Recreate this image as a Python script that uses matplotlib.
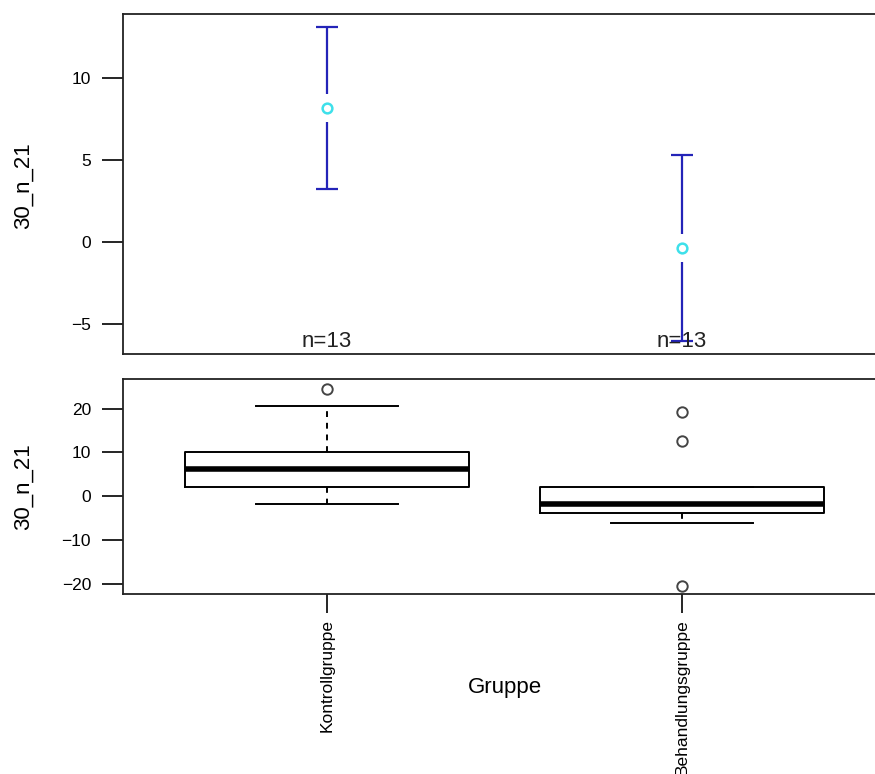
import matplotlib
matplotlib.use("Agg")
import matplotlib.pyplot as plt
import matplotlib.transforms as mtrans

plt.rcParams['font.family'] = ['Liberation Sans', 'DejaVu Sans']

# data
groups = ["Kontrollgruppe", "Behandlungsgruppe"]
n_per_group = [13, 13]
means = [8.17, -0.37]
ci_half = [4.95, 5.67]

# boxplot stats per group
box_q1 = [2.1, -3.9]
box_med = [6.1, -1.9]
box_q3 = [10.1, 2.06]
whisk_lo = [-1.8, -6.25]
whisk_hi = [20.7, 2.06]
outliers = [[24.6], [19.2, 12.7, -20.6]]

pos = [1, 2]
W, H = 875, 774
fig = plt.figure(figsize=(W / 100, H / 100), dpi=100)

# pixel layout of the two panels
left, right = 123, 885
ax1 = fig.add_axes([left / W, 1 - 354 / H, (right - left) / W, 340 / H])
ax2 = fig.add_axes([left / W, 1 - 594 / H, (right - left) / W, 215 / H])

xlim = (0.425, 0.425 + (right - left) / 355)
for ax in (ax1, ax2):
    ax.set_xlim(*xlim)
    for s in ax.spines.values():
        s.set_linewidth(1.3)
        s.set_color('#222222')
    ax.tick_params(axis='y', length=15, width=1.2, pad=8, labelsize=12.5)
    ax.tick_params(axis='x', length=14, width=1.2, pad=4, labelsize=12.5)

# --- top panel: mean with CI ---
ylim1 = (-6.83, 13.9)
ax1.set_ylim(*ylim1)
gap = 14 / 340 * (ylim1[1] - ylim1[0])
cap = 0.03
for x, m, h in zip(pos, means, ci_half):
    ax1.vlines(x, m + gap, m + h, color='#2424b8', lw=1.6)
    ax1.vlines(x, m - h, m - gap, color='#2424b8', lw=1.6)
    ax1.hlines([m + h, m - h], x - cap, x + cap, color='#2424b8', lw=1.6)
ax1.plot(pos, means, 'o', ms=7, mfc='none', mec='#3ee0ea', mew=1.8, ls='none')
ax1.set_yticks([-5, 0, 5, 10])
ax1.set_yticklabels(['\u22125', '0', '5', '10'])
ax1.set_xticks([])
blend = mtrans.blended_transform_factory(ax1.transData, ax1.transAxes)
for x, n in zip(pos, n_per_group):
    ax1.text(x, 0.005, f"n={n}", transform=blend, ha='center', va='bottom',
             fontsize=16, color='#222222')

# --- bottom panel: boxplot ---
stats = []
for i in range(len(groups)):
    stats.append(dict(q1=box_q1[i], med=box_med[i], q3=box_q3[i],
                      whislo=whisk_lo[i], whishi=whisk_hi[i], fliers=outliers[i]))
ax2.bxp(stats, positions=pos, widths=0.8, showfliers=True,
        boxprops=dict(color='black', lw=1.4),
        medianprops=dict(color='black', lw=4),
        whiskerprops=dict(color='black', lw=1.4, ls=(0, (3, 3))),
        capprops=dict(color='black', lw=1.4),
        flierprops=dict(marker='o', ms=7.5, mfc='none', mec='#444444', mew=1.4))
ax2.set_ylim(-22.4, 26.8)
ax2.set_yticks([-20, -10, 0, 10, 20])
ax2.set_yticklabels(['\u221220', '\u221210', '0', '10', '20'])
ax2.set_xticks(pos)
ax2.set_xticklabels(groups, rotation=90, va='top')

fig.text(505 / W, 1 - 687 / H, "Gruppe", ha='center', va='center', fontsize=16)
fig.text(23 / W, 1 - 186 / H, "30_n_21", ha='center', va='center', rotation=90, fontsize=16)
fig.text(23 / W, 1 - 487 / H, "30_n_21", ha='center', va='center', rotation=90, fontsize=16)

fig.savefig("out.png", dpi=100)
